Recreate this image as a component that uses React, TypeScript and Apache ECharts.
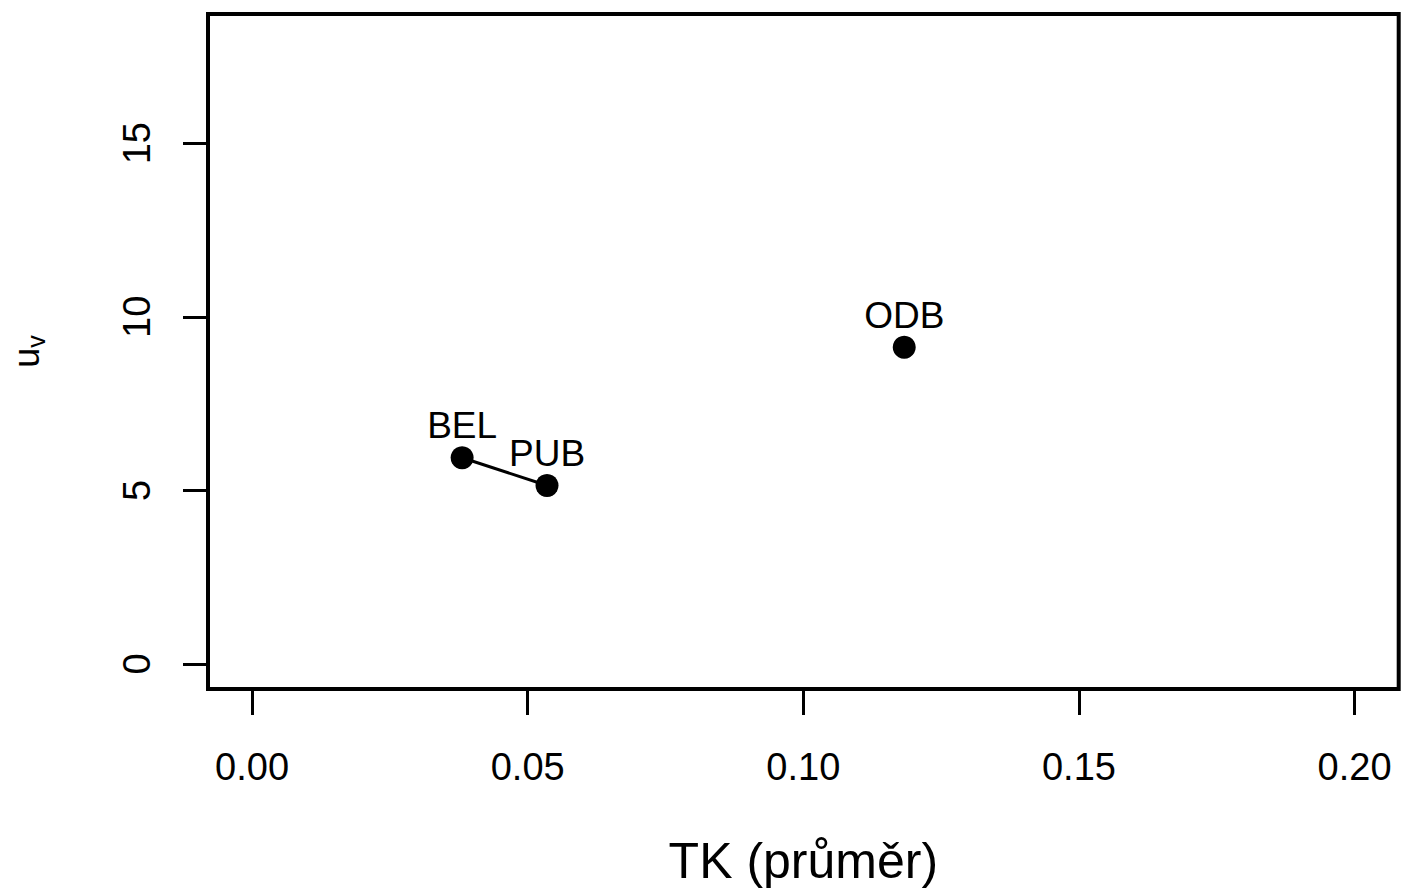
import React, { useEffect, useRef } from "react";
import * as echarts from "echarts";

const siteNames = ["BEL", "PUB", "ODB"];
const tkValues = [0.0381, 0.0535, 0.1183];
const uvValues = [5.94, 5.14, 9.12];
const linkedSites = ["BEL", "PUB"];
const xTicks = [0, 0.05, 0.1, 0.15, 0.2];
const xTickLabels = ["0.00", "0.05", "0.10", "0.15", "0.20"];
const yTicks = [0, 5, 10, 15];
const xTitle = "TK (průměr)";

const FONT = "'Liberation Sans', Arial, Helvetica, sans-serif";

export default function App() {
  const ref = useRef<HTMLDivElement>(null);
  useEffect(() => {
    if (!ref.current) return;
    const chart = echarts.init(ref.current, null, { renderer: "svg" });
    const points = siteNames.map((n, i) => ({ name: n, value: [tkValues[i], uvValues[i]] }));
    const linkData = linkedSites.map((n) => {
      const i = siteNames.indexOf(n);
      return [tkValues[i], uvValues[i]];
    });
    chart.setOption({
      animation: false,
      backgroundColor: "#ffffff",
      textStyle: { fontFamily: FONT, color: "#000" },
      grid: {
        left: 205,
        right: 3.3,
        top: 14,
        bottom: 206,
        show: true,
        borderColor: "#000",
        borderWidth: 4,
        backgroundColor: "transparent",
      },
      xAxis: {
        type: "value",
        min: -0.008,
        max: 0.208,
        splitLine: { show: false },
        axisLine: { show: false, onZero: false },
        axisTick: {
          show: true,
          inside: false,
          length: 26,
          customValues: xTicks,
          lineStyle: { color: "#000", width: 3 },
        },
        axisLabel: {
          show: true,
          customValues: xTicks,
          margin: 59,
          fontSize: 38,
          fontFamily: FONT,
          color: "#000",
          formatter: (v: number) => {
            const idx = xTicks.findIndex((t) => Math.abs(t - v) < 1e-9);
            return idx >= 0 ? xTickLabels[idx] : "";
          },
        },
        name: xTitle,
        nameLocation: "middle",
        nameGap: 147,
        nameTextStyle: { fontSize: 50, fontFamily: FONT, color: "#000" },
      },
      yAxis: {
        type: "value",
        min: -0.72,
        max: 18.72,
        splitLine: { show: false },
        axisLine: { show: false, onZero: false },
        axisTick: {
          show: true,
          inside: false,
          length: 25,
          customValues: yTicks,
          lineStyle: { color: "#000", width: 3 },
        },
        axisLabel: {
          show: true,
          customValues: yTicks,
          rotate: 90,
          margin: 52,
          fontSize: 38,
          fontFamily: FONT,
          color: "#000",
          formatter: (v: number) => String(Math.round(v)),
        },
        name: "{u|u}{v|v}",
        nameLocation: "middle",
        nameRotate: 90,
        nameGap: 160,
        nameTextStyle: {
          fontFamily: FONT,
          color: "#000",
          rich: {
            u: { fontSize: 36, lineHeight: 40, verticalAlign: "top", fontFamily: FONT, color: "#000" },
            v: { fontSize: 25, lineHeight: 24, verticalAlign: "bottom", fontFamily: FONT, color: "#000" },
          },
        },
      },
      series: [
        {
          type: "line",
          data: linkData,
          showSymbol: false,
          symbol: "none",
          lineStyle: { color: "#000", width: 3 },
          z: 2,
        },
        {
          type: "scatter",
          data: points,
          symbol: "circle",
          symbolSize: 23,
          itemStyle: { color: "#000", opacity: 1 },
          label: {
            show: true,
            position: "top",
            distance: 2,
            formatter: (p: any) => p.name,
            fontSize: 37,
            fontFamily: FONT,
            color: "#000",
            opacity: 1,
          },
          z: 3,
        },
      ],
    });
    return () => chart.dispose();
  }, []);
  return (
    <div
      ref={ref}
      style={{ position: "fixed", left: 0, top: 0, width: 1402, height: 895, background: "#fff" }}
    />
  );
}
